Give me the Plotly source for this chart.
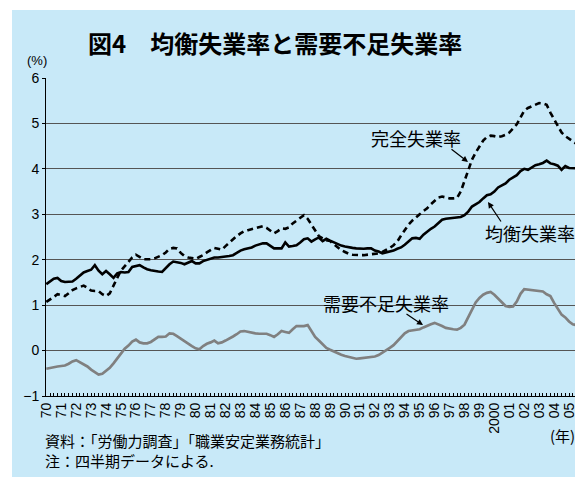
import plotly.graph_objects as go

# ---- data (quarterly, 1970Q1 - 2005Q3) ----
years = list(range(1970, 2006))
year_labels = ["70", "71", "72", "73", "74", "75", "76", "77", "78", "79",
               "80", "81", "82", "83", "84", "85", "86", "87", "88", "89",
               "90", "91", "92", "93", "94", "95", "96", "97", "98", "99",
               "2000", "01", "02", "03", "04", "05"]

actual_rate = [  # 完全失業率
    1.07, 1.12, 1.18, 1.24,  1.22, 1.20, 1.26, 1.33,  1.37, 1.40, 1.43, 1.38,
    1.32, 1.31, 1.31, 1.24,  1.20, 1.26, 1.45, 1.60,  1.76, 1.86, 1.95, 2.05,
    2.11, 2.06, 2.01, 2.01,  2.01, 2.03, 2.06, 2.10,  2.16, 2.24, 2.26, 2.25,
    2.15, 2.08, 2.05, 2.03,  2.02, 2.06, 2.10, 2.16,  2.22, 2.26, 2.24, 2.22,
    2.30, 2.38, 2.44, 2.52,  2.58, 2.63, 2.65, 2.67,  2.69, 2.72, 2.74, 2.70,
    2.63, 2.58, 2.63, 2.69,  2.68, 2.71, 2.80, 2.86,  2.92, 2.98, 2.90, 2.78,
    2.66, 2.52, 2.47, 2.43,  2.41, 2.34, 2.27, 2.21,  2.17, 2.13, 2.11, 2.10,
    2.10, 2.10, 2.11, 2.11,  2.12, 2.14, 2.17, 2.21,  2.26, 2.32, 2.40, 2.53,
    2.66, 2.77, 2.86, 2.94,  3.00, 3.07, 3.13, 3.22,  3.30, 3.37, 3.39, 3.37,
    3.35, 3.35, 3.36, 3.50,  3.72, 3.98, 4.20, 4.36,  4.50, 4.62, 4.70, 4.73,
    4.72, 4.70, 4.72, 4.75,  4.80, 4.88, 4.98, 5.13,  5.28, 5.34, 5.38, 5.42,
    5.45, 5.44, 5.41, 5.24,  5.10, 4.95, 4.80, 4.72,  4.66, 4.60, 4.55,
]

equilibrium_rate = [  # 均衡失業率
    1.46, 1.52, 1.58, 1.60,  1.53, 1.51, 1.51, 1.52,  1.58, 1.64, 1.72, 1.75,
    1.78, 1.88, 1.76, 1.68,  1.75, 1.68, 1.60, 1.70,  1.73, 1.72, 1.73, 1.84,
    1.86, 1.88, 1.83, 1.79,  1.77, 1.75, 1.74, 1.73,  1.82, 1.90, 1.96, 1.95,
    1.93, 1.90, 1.93, 1.97,  1.92, 1.92, 1.97, 2.00,  2.02, 2.05, 2.05, 2.06,
    2.06, 2.08, 2.10, 2.15,  2.20, 2.23, 2.25, 2.27,  2.31, 2.34, 2.36, 2.36,
    2.30, 2.25, 2.25, 2.25,  2.38, 2.29, 2.30, 2.32,  2.38, 2.45, 2.47, 2.40,
    2.45, 2.49, 2.41, 2.46,  2.42, 2.38, 2.35, 2.31,  2.29, 2.27, 2.26, 2.25,
    2.24, 2.24, 2.25, 2.25,  2.20, 2.18, 2.14, 2.16,  2.18, 2.20, 2.24, 2.27,
    2.33, 2.41, 2.47, 2.48,  2.46, 2.55, 2.62, 2.68,  2.73, 2.80, 2.88, 2.90,
    2.91, 2.92, 2.93, 2.94,  2.98, 3.06, 3.17, 3.22,  3.27, 3.35, 3.42, 3.44,
    3.50, 3.59, 3.64, 3.68,  3.76, 3.81, 3.86, 3.95,  4.00, 3.98, 4.03, 4.08,
    4.10, 4.13, 4.18, 4.12,  4.10, 4.07, 3.98, 4.06,  4.02, 4.01, 4.01,
]

demand_rate = [  # 需要不足失業率
    -0.40, -0.38, -0.36, -0.35,  -0.34, -0.33, -0.29, -0.24,  -0.21, -0.26, -0.30, -0.35,
    -0.42, -0.48, -0.53, -0.51,  -0.45, -0.38, -0.28, -0.18,  -0.07, 0.04, 0.11, 0.20,
    0.24, 0.18, 0.16, 0.16,  0.19, 0.24, 0.30, 0.30,  0.31, 0.38, 0.37, 0.32,
    0.26, 0.22, 0.16, 0.10,  0.05, 0.03, 0.10, 0.15,  0.18, 0.22, 0.16, 0.18,
    0.22, 0.26, 0.31, 0.36,  0.42, 0.43, 0.41, 0.39,  0.38, 0.37, 0.37, 0.37,
    0.34, 0.30, 0.36, 0.43,  0.41, 0.39, 0.47, 0.54,  0.54, 0.54, 0.56, 0.42,
    0.30, 0.22, 0.13, 0.06,  0.02, -0.02, -0.06, -0.09,  -0.12, -0.14, -0.16, -0.18,
    -0.17, -0.16, -0.14, -0.14,  -0.13, -0.10, -0.05, 0.00,  0.06, 0.12, 0.20, 0.28,
    0.38, 0.43, 0.44, 0.46,  0.47, 0.51, 0.55, 0.58,  0.61, 0.58, 0.54, 0.50,
    0.48, 0.47, 0.46, 0.50,  0.57, 0.74, 0.91, 1.06,  1.16, 1.23, 1.27, 1.29,
    1.23, 1.14, 1.05, 0.98,  0.96, 0.97, 1.08, 1.25,  1.35, 1.34, 1.34, 1.33,
    1.32, 1.30, 1.24, 1.20,  1.05, 0.92, 0.79, 0.73,  0.64, 0.58, 0.56,
]

quarters = [y + q / 4 for y in years for q in range(4)][:len(actual_rate)]
tick_text = []
for lab in year_labels:
    tick_text += [lab, "", "", ""]
tick_text = tick_text[:len(quarters)]

JP = "Noto Sans CJK JP"
NUM = "Liberation Sans, Arial, sans-serif"

fig = go.Figure()
fig.add_trace(go.Scatter(x=quarters, y=demand_rate, mode="lines",
                         line=dict(color="#808080", width=2.7), name="需要不足失業率"))
fig.add_trace(go.Scatter(x=quarters, y=actual_rate, mode="lines",
                         line=dict(color="black", width=2.6, dash="6px,4px"), name="完全失業率"))
fig.add_trace(go.Scatter(x=quarters, y=equilibrium_rate, mode="lines",
                         line=dict(color="black", width=2.6), name="均衡失業率"))

# page body has an 8px margin: work in screen pixels and shift;
# keep the page from overflowing the window vertically
OFF = 8
W, H = 583 - OFF, 485 - 2 * OFF
PL, PR, PT, PB = 46, 578, 78, 396  # plot area in screen pixels
L, R, T, B = PL - OFF, W - (PR - OFF), PT - OFF, H - (PB - OFF)
pw, ph = PR - PL, PB - PT


def px2paper(px, py):
    return (px - PL) / pw, (PB - py) / ph


x0, y1 = px2paper(12, 10)
x1, y0 = px2paper(583, 482)
fig.add_shape(type="rect", xref="paper", yref="paper", x0=x0, x1=x1, y0=y0, y1=y1,
              fillcolor="#C8E9F8", line=dict(width=0), layer="below")

xr = [1969.98, 2005.6]
yr = [-1, 6]


def pd2(px, py):
    return (xr[0] + (px - PL) / pw * (xr[1] - xr[0]),
            yr[0] + (PB - py) / ph * (yr[1] - yr[0]))


def paper_text(text, px, py, size, family, xanchor="center"):
    tx, ty = px2paper(px, py)
    return dict(text=text, xref="paper", yref="paper", x=tx, y=ty,
                xanchor=xanchor, yanchor="middle", align="left", showarrow=False,
                font=dict(family=family, size=size, color="black"))


annots = [
    paper_text("<b>図4　均衡失業率と需要不足失業率</b>", 275, 43, 24, JP),
    paper_text("(%)", 37, 61, 13, NUM),
    paper_text("(年)", 562, 435, 15, JP),
    paper_text("資料：「労働力調査」「職業安定業務統計」<br>注：四半期データによる.",
               43, 450, 15, JP, xanchor="left"),
]

labels = [
    ("完全失業率", (416, 138), (450, 148), (468, 162)),
    ("均衡失業率", (530, 233), (502, 223), (488, 202)),
    ("需要不足失業率", (386, 303), (405, 313), (423, 325)),
]
for text, (cx, cy), (ax0, ay0), (ax1, ay1) in labels:
    dx, dy = pd2(cx, cy)
    annots.append(dict(text=text, x=dx, y=dy, xref="x", yref="y", showarrow=False,
                       xanchor="center", yanchor="middle",
                       font=dict(family=JP, size=18, color="black")))
    sx, sy = pd2(ax0, ay0)
    ex, ey = pd2(ax1, ay1)
    annots.append(dict(text="", x=ex, y=ey, ax=sx, ay=sy, xref="x", yref="y",
                       axref="x", ayref="y", showarrow=True, arrowhead=2,
                       arrowsize=1, arrowwidth=1.2, arrowcolor="black"))

fig.update_layout(
    width=W, height=H, autosize=False, margin=dict(l=L, r=R, t=T, b=B),
    paper_bgcolor="white", plot_bgcolor="white", showlegend=False,
    annotations=annots,
    xaxis=dict(range=xr, tickmode="array", tickvals=quarters, ticktext=tick_text,
               tickangle=-90, ticks="inside", ticklen=3, tickcolor="black", tickwidth=1,
               showgrid=False, showline=True, linecolor="black", linewidth=1,
               zeroline=False, tickfont=dict(family=NUM, size=14, color="black")),
    yaxis=dict(range=yr, dtick=1, tick0=0, ticks="outside", ticklen=3, tickcolor="black",
               showgrid=True, gridcolor="#555555", gridwidth=1,
               showline=True, linecolor="black", linewidth=1, zeroline=False,
               tickfont=dict(family=NUM, size=14, color="black")),
)

fig.write_html("out.html", config={"responsive": False})
